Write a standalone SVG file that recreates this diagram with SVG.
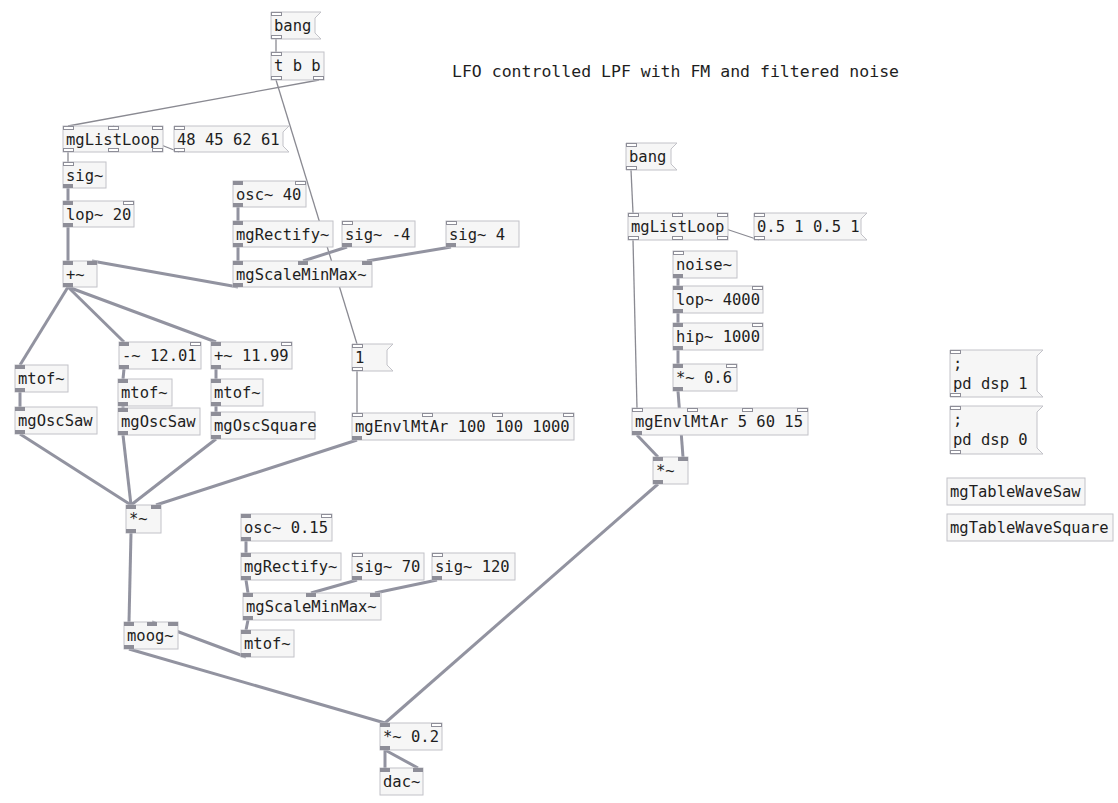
<svg xmlns="http://www.w3.org/2000/svg" width="1118" height="803" viewBox="0 0 1118 803">
<style>
.b{fill:#f6f6f6;stroke:#c2c2c8;stroke-width:1}
.t{font-family:"DejaVu Sans Mono",monospace;font-size:15.5px;fill:#1e1e1e}
.cm{font-family:"DejaVu Sans Mono",monospace;font-size:16.5px;fill:#1e1e1e}
.s{fill:#8e8e98}
.c{fill:#ffffff;stroke:#8e8e98;stroke-width:1}
.sg{stroke:#9293a0;stroke-width:3;fill:none;stroke-linecap:butt}
.ct{stroke:#8a8a92;stroke-width:1.3;fill:none}
</style>
<rect width="1118" height="803" fill="#ffffff"/>
<g id="connectors">
<g class="ct">
<line x1="276" y1="39" x2="276" y2="52"/>
<line x1="319" y1="80" x2="68" y2="126"/>
<line x1="276" y1="80" x2="357" y2="344"/>
<line x1="179" y1="152" x2="113" y2="126"/>
<line x1="68" y1="152" x2="68" y2="162"/>
<line x1="357" y1="371" x2="357" y2="413"/>
<line x1="631" y1="170" x2="633" y2="213"/>
<line x1="759" y1="240" x2="678" y2="213"/>
<line x1="633" y1="240" x2="637" y2="408"/>
</g>
<g class="sg">
<line x1="68" y1="188" x2="68" y2="201"/>
<line x1="68" y1="227" x2="68" y2="261"/>
<line x1="238" y1="207" x2="238" y2="221"/>
<line x1="238" y1="247" x2="238" y2="261"/>
<line x1="347" y1="247" x2="303" y2="261"/>
<line x1="451" y1="247" x2="367" y2="261"/>
<line x1="238" y1="287" x2="92" y2="261"/>
<line x1="68" y1="287" x2="20" y2="365"/>
<line x1="68" y1="287" x2="124" y2="342"/>
<line x1="68" y1="287" x2="216" y2="342"/>
<line x1="124" y1="369" x2="123" y2="379"/>
<line x1="123" y1="406" x2="123" y2="408"/>
<line x1="216" y1="369" x2="216" y2="379"/>
<line x1="216" y1="406" x2="216" y2="412"/>
<line x1="20" y1="392" x2="20" y2="407"/>
<line x1="20" y1="434" x2="131" y2="505"/>
<line x1="123" y1="435" x2="131" y2="505"/>
<line x1="216" y1="439" x2="131" y2="505"/>
<line x1="357" y1="440" x2="156" y2="505"/>
<line x1="131" y1="533" x2="129" y2="622"/>
<line x1="246" y1="541" x2="246" y2="553"/>
<line x1="246" y1="580" x2="248" y2="593"/>
<line x1="357" y1="580" x2="311" y2="593"/>
<line x1="437" y1="580" x2="375" y2="593"/>
<line x1="248" y1="620" x2="246" y2="630"/>
<line x1="246" y1="657" x2="152" y2="622"/>
<line x1="129" y1="649" x2="385" y2="723"/>
<line x1="658" y1="484" x2="385" y2="723"/>
<line x1="385" y1="750" x2="385" y2="768"/>
<line x1="385" y1="750" x2="418" y2="768"/>
<line x1="678" y1="278" x2="678" y2="286"/>
<line x1="678" y1="313" x2="678" y2="323"/>
<line x1="678" y1="350" x2="678" y2="364"/>
<line x1="678" y1="391" x2="683" y2="457"/>
<line x1="637" y1="435" x2="658" y2="457"/>
</g>
</g>
<text class="cm" x="452" y="77">LFO controlled LPF with FM and filtered noise</text>

<g id="bang1"><path class="b" d="M271 12H321L315 18V33L321 39H271Z"/><text class="t" x="274" y="31">bang</text><rect class="c" x="271.5" y="12.5" width="10" height="3"/><rect class="c" x="271.5" y="35.5" width="10" height="3"/></g>
<g id="tbb"><rect class="b" x="271" y="52" width="53" height="28"/><text class="t" x="274" y="71">t b b</text><rect class="c" x="271.5" y="52.5" width="10" height="3"/><rect class="c" x="271.5" y="76.5" width="10" height="3"/><rect class="c" x="313.5" y="76.5" width="10" height="3"/></g>
<g id="listloop1"><rect class="b" x="63" y="126" width="100" height="26"/><text class="t" x="66" y="145">mgListLoop</text><rect class="c" x="63.5" y="126.5" width="10" height="3"/><rect class="c" x="108.5" y="126.5" width="10" height="3"/><rect class="c" x="152.5" y="126.5" width="10" height="3"/><rect class="c" x="63.5" y="148.5" width="10" height="3"/><rect class="c" x="108.5" y="148.5" width="10" height="3"/><rect class="c" x="152.5" y="148.5" width="10" height="3"/></g>
<g id="msg1"><path class="b" d="M174 126H289L283 132V146L289 152H174Z"/><text class="t" x="177" y="145">48 45 62 61</text><rect class="c" x="174.5" y="126.5" width="10" height="3"/><rect class="c" x="174.5" y="148.5" width="10" height="3"/></g>
<g id="sig1"><rect class="b" x="63" y="162" width="43" height="26"/><text class="t" x="66" y="181">sig~</text><rect class="c" x="63.5" y="162.5" width="10" height="3"/><rect class="s" x="63" y="184" width="10" height="4"/></g>
<g id="lop1"><rect class="b" x="63" y="201" width="71" height="26"/><text class="t" x="66" y="220">lop~ 20</text><rect class="s" x="63" y="201" width="10" height="4"/><rect class="c" x="123.5" y="201.5" width="10" height="3"/><rect class="s" x="63" y="223" width="10" height="4"/></g>
<g id="plus1"><rect class="b" x="63" y="261" width="34" height="26"/><text class="t" x="66" y="280">+~</text><rect class="s" x="63" y="261" width="10" height="4"/><rect class="s" x="87" y="261" width="10" height="4"/><rect class="s" x="63" y="283" width="10" height="4"/></g>
<g id="osc1"><rect class="b" x="233" y="181" width="73" height="26"/><text class="t" x="236" y="200">osc~ 40</text><rect class="s" x="233" y="181" width="10" height="4"/><rect class="c" x="295.5" y="181.5" width="10" height="3"/><rect class="s" x="233" y="203" width="10" height="4"/></g>
<g id="rect1"><rect class="b" x="233" y="221" width="100" height="26"/><text class="t" x="236" y="240">mgRectify~</text><rect class="s" x="233" y="221" width="10" height="4"/><rect class="s" x="233" y="243" width="10" height="4"/></g>
<g id="sigm4"><rect class="b" x="342" y="221" width="73" height="26"/><text class="t" x="345" y="240">sig~ -4</text><rect class="c" x="342.5" y="221.5" width="10" height="3"/><rect class="s" x="342" y="243" width="10" height="4"/></g>
<g id="sig4"><rect class="b" x="446" y="221" width="73" height="26"/><text class="t" x="449" y="240">sig~ 4</text><rect class="c" x="446.5" y="221.5" width="10" height="3"/><rect class="s" x="446" y="243" width="10" height="4"/></g>
<g id="smm1"><rect class="b" x="233" y="261" width="139" height="26"/><text class="t" x="236" y="280">mgScaleMinMax~</text><rect class="s" x="233" y="261" width="10" height="4"/><rect class="s" x="298" y="261" width="10" height="4"/><rect class="s" x="362" y="261" width="10" height="4"/><rect class="s" x="233" y="283" width="10" height="4"/></g>
<g id="sub1"><rect class="b" x="119" y="342" width="82" height="27"/><text class="t" x="122" y="361">-~ 12.01</text><rect class="s" x="119" y="342" width="10" height="4"/><rect class="c" x="190.5" y="342.5" width="10" height="3"/><rect class="s" x="119" y="365" width="10" height="4"/></g>
<g id="add2"><rect class="b" x="211" y="342" width="81" height="27"/><text class="t" x="214" y="361">+~ 11.99</text><rect class="s" x="211" y="342" width="10" height="4"/><rect class="c" x="281.5" y="342.5" width="10" height="3"/><rect class="s" x="211" y="365" width="10" height="4"/></g>
<g id="msgone"><path class="b" d="M352 344H393L387 350V365L393 371H352Z"/><text class="t" x="355" y="363">1</text><rect class="c" x="352.5" y="344.5" width="10" height="3"/><rect class="c" x="352.5" y="367.5" width="10" height="3"/></g>
<g id="mtofL"><rect class="b" x="15" y="365" width="53" height="27"/><text class="t" x="18" y="384">mtof~</text><rect class="s" x="15" y="365" width="10" height="4"/><rect class="s" x="15" y="388" width="10" height="4"/></g>
<g id="sawL"><rect class="b" x="15" y="407" width="82" height="27"/><text class="t" x="18" y="426">mgOscSaw</text><rect class="s" x="15" y="407" width="10" height="4"/><rect class="s" x="15" y="430" width="10" height="4"/></g>
<g id="mtofM"><rect class="b" x="118" y="379" width="54" height="27"/><text class="t" x="121" y="398">mtof~</text><rect class="s" x="118" y="379" width="10" height="4"/><rect class="s" x="118" y="402" width="10" height="4"/></g>
<g id="sawM"><rect class="b" x="118" y="408" width="82" height="27"/><text class="t" x="121" y="427">mgOscSaw</text><rect class="s" x="118" y="408" width="10" height="4"/><rect class="s" x="118" y="431" width="10" height="4"/></g>
<g id="mtofR"><rect class="b" x="211" y="379" width="52" height="27"/><text class="t" x="214" y="398">mtof~</text><rect class="s" x="211" y="379" width="10" height="4"/><rect class="s" x="211" y="402" width="10" height="4"/></g>
<g id="square"><rect class="b" x="211" y="412" width="104" height="27"/><text class="t" x="214" y="431">mgOscSquare</text><rect class="s" x="211" y="412" width="10" height="4"/><rect class="s" x="211" y="435" width="10" height="4"/></g>
<g id="env1"><rect class="b" x="352" y="413" width="222" height="27"/><text class="t" x="355" y="432">mgEnvlMtAr 100 100 1000</text><rect class="c" x="352.5" y="413.5" width="10" height="3"/><rect class="c" x="422.5" y="413.5" width="10" height="3"/><rect class="c" x="492.5" y="413.5" width="10" height="3"/><rect class="c" x="563.5" y="413.5" width="10" height="3"/><rect class="s" x="352" y="436" width="10" height="4"/></g>
<g id="mul1"><rect class="b" x="126" y="505" width="35" height="28"/><text class="t" x="129" y="524">*~</text><rect class="s" x="126" y="505" width="10" height="4"/><rect class="s" x="151" y="505" width="10" height="4"/><rect class="s" x="126" y="529" width="10" height="4"/></g>
<g id="osc2"><rect class="b" x="241" y="514" width="91" height="27"/><text class="t" x="244" y="533">osc~ 0.15</text><rect class="s" x="241" y="514" width="10" height="4"/><rect class="c" x="321.5" y="514.5" width="10" height="3"/><rect class="s" x="241" y="537" width="10" height="4"/></g>
<g id="rect2"><rect class="b" x="241" y="553" width="100" height="27"/><text class="t" x="244" y="572">mgRectify~</text><rect class="s" x="241" y="553" width="10" height="4"/><rect class="s" x="241" y="576" width="10" height="4"/></g>
<g id="sig70"><rect class="b" x="352" y="553" width="72" height="27"/><text class="t" x="355" y="572">sig~ 70</text><rect class="c" x="352.5" y="553.5" width="10" height="3"/><rect class="s" x="352" y="576" width="10" height="4"/></g>
<g id="sig120"><rect class="b" x="432" y="553" width="83" height="27"/><text class="t" x="435" y="572">sig~ 120</text><rect class="c" x="432.5" y="553.5" width="10" height="3"/><rect class="s" x="432" y="576" width="10" height="4"/></g>
<g id="smm2"><rect class="b" x="243" y="593" width="138" height="27"/><text class="t" x="246" y="612">mgScaleMinMax~</text><rect class="s" x="243" y="593" width="10" height="4"/><rect class="s" x="306" y="593" width="10" height="4"/><rect class="s" x="370" y="593" width="10" height="4"/><rect class="s" x="243" y="616" width="10" height="4"/></g>
<g id="mtof3"><rect class="b" x="241" y="630" width="53" height="27"/><text class="t" x="244" y="649">mtof~</text><rect class="s" x="241" y="630" width="10" height="4"/><rect class="s" x="241" y="653" width="10" height="4"/></g>
<g id="moog"><rect class="b" x="124" y="622" width="54" height="27"/><text class="t" x="127" y="641">moog~</text><rect class="s" x="124" y="622" width="10" height="4"/><rect class="s" x="147" y="622" width="10" height="4"/><rect class="s" x="168" y="622" width="10" height="4"/><rect class="s" x="124" y="645" width="10" height="4"/></g>
<g id="mul02"><rect class="b" x="380" y="723" width="62" height="27"/><text class="t" x="383" y="742">*~ 0.2</text><rect class="s" x="380" y="723" width="10" height="4"/><rect class="c" x="431.5" y="723.5" width="10" height="3"/><rect class="s" x="380" y="746" width="10" height="4"/></g>
<g id="dac"><rect class="b" x="380" y="768" width="43" height="27"/><text class="t" x="383" y="787">dac~</text><rect class="s" x="380" y="768" width="10" height="4"/><rect class="s" x="413" y="768" width="10" height="4"/></g>

<g id="bang2"><path class="b" d="M626 143H677L671 149V164L677 170H626Z"/><text class="t" x="629" y="162">bang</text><rect class="c" x="626.5" y="143.5" width="10" height="3"/><rect class="c" x="626.5" y="166.5" width="10" height="3"/></g>
<g id="listloop2"><rect class="b" x="628" y="213" width="100" height="27"/><text class="t" x="631" y="232">mgListLoop</text><rect class="c" x="628.5" y="213.5" width="10" height="3"/><rect class="c" x="672.5" y="213.5" width="10" height="3"/><rect class="c" x="717.5" y="213.5" width="10" height="3"/><rect class="c" x="628.5" y="236.5" width="10" height="3"/><rect class="c" x="672.5" y="236.5" width="10" height="3"/><rect class="c" x="717.5" y="236.5" width="10" height="3"/></g>
<g id="msg2"><path class="b" d="M754 213H867L861 219V234L867 240H754Z"/><text class="t" x="757" y="232">0.5 1 0.5 1</text><rect class="c" x="754.5" y="213.5" width="10" height="3"/><rect class="c" x="754.5" y="236.5" width="10" height="3"/></g>
<g id="noise"><rect class="b" x="673" y="251" width="64" height="27"/><text class="t" x="676" y="270">noise~</text><rect class="c" x="673.5" y="251.5" width="10" height="3"/><rect class="s" x="673" y="274" width="10" height="4"/></g>
<g id="lop2"><rect class="b" x="673" y="286" width="90" height="27"/><text class="t" x="676" y="305">lop~ 4000</text><rect class="s" x="673" y="286" width="10" height="4"/><rect class="c" x="752.5" y="286.5" width="10" height="3"/><rect class="s" x="673" y="309" width="10" height="4"/></g>
<g id="hip"><rect class="b" x="673" y="323" width="90" height="27"/><text class="t" x="676" y="342">hip~ 1000</text><rect class="s" x="673" y="323" width="10" height="4"/><rect class="c" x="752.5" y="323.5" width="10" height="3"/><rect class="s" x="673" y="346" width="10" height="4"/></g>
<g id="mul06"><rect class="b" x="673" y="364" width="64" height="27"/><text class="t" x="676" y="383">*~ 0.6</text><rect class="s" x="673" y="364" width="10" height="4"/><rect class="c" x="726.5" y="364.5" width="10" height="3"/><rect class="s" x="673" y="387" width="10" height="4"/></g>
<g id="env2"><rect class="b" x="632" y="408" width="176" height="27"/><text class="t" x="635" y="427">mgEnvlMtAr 5 60 15</text><rect class="c" x="632.5" y="408.5" width="10" height="3"/><rect class="c" x="687.5" y="408.5" width="10" height="3"/><rect class="c" x="742.5" y="408.5" width="10" height="3"/><rect class="c" x="797.5" y="408.5" width="10" height="3"/><rect class="s" x="632" y="431" width="10" height="4"/></g>
<g id="mul2"><rect class="b" x="653" y="457" width="35" height="27"/><text class="t" x="656" y="476">*~</text><rect class="s" x="653" y="457" width="10" height="4"/><rect class="s" x="678" y="457" width="10" height="4"/><rect class="s" x="653" y="480" width="10" height="4"/></g>

<g id="dsp1"><path class="b" d="M950 350H1043L1037 356V391L1043 397H950Z"/><text class="t" x="953" y="369">;</text><text class="t" x="953" y="389">pd dsp 1</text><rect class="c" x="950.5" y="350.5" width="10" height="3"/><rect class="c" x="950.5" y="393.5" width="10" height="3"/></g>
<g id="dsp0"><path class="b" d="M950 406H1043L1037 412V448L1043 454H950Z"/><text class="t" x="953" y="425">;</text><text class="t" x="953" y="445">pd dsp 0</text><rect class="c" x="950.5" y="406.5" width="10" height="3"/><rect class="c" x="950.5" y="450.5" width="10" height="3"/></g>
<g id="tablesaw"><rect class="b" x="947" y="478" width="138" height="27"/><text class="t" x="950" y="497">mgTableWaveSaw</text></g>
<g id="tablesquare"><rect class="b" x="947" y="514" width="166" height="27"/><text class="t" x="950" y="533">mgTableWaveSquare</text></g>
</svg>
